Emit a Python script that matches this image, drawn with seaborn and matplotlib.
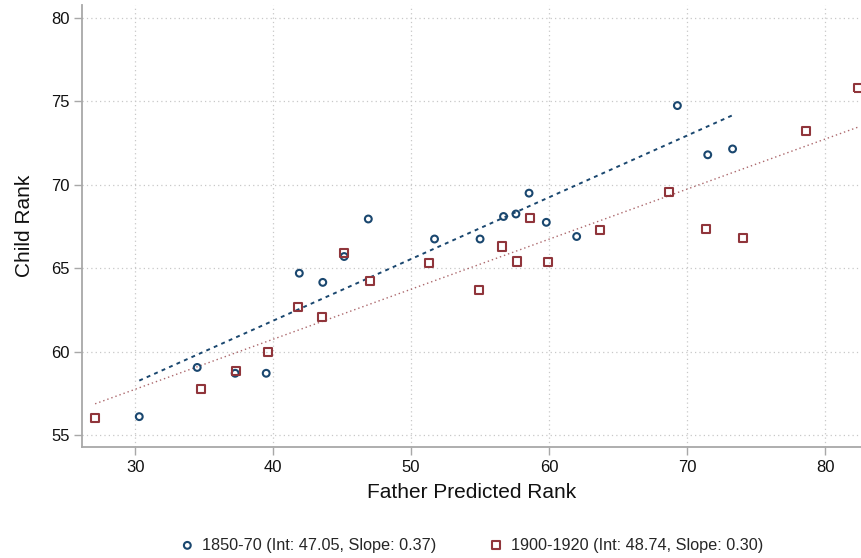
import numpy as np
import pandas as pd
import matplotlib
matplotlib.use("Agg")
import matplotlib.pyplot as plt
import seaborn as sns

# Cohort 1850-70: father predicted rank vs child rank
father_1850 = [30.3, 34.5, 37.25, 39.5, 41.9, 43.6, 45.15, 46.9, 51.7, 55.0,
               56.7, 57.6, 58.55, 59.8, 62.0, 69.3, 71.5, 73.3]
child_1850 = [56.1, 59.05, 58.7, 58.7, 64.7, 64.15, 65.7, 67.95, 66.75, 66.75,
              68.1, 68.25, 69.5, 67.75, 66.9, 74.75, 71.8, 72.15]

# Cohort 1900-1920
father_1900 = [27.1, 34.8, 37.3, 39.6, 41.8, 43.55, 45.15, 47.0, 51.3, 54.9,
               56.6, 57.7, 58.6, 59.9, 63.7, 68.7, 71.4, 74.06, 78.6, 82.4]
child_1900 = [56.0, 57.75, 58.85, 60.0, 62.65, 62.05, 65.9, 64.25, 65.3, 63.7,
              66.3, 65.4, 68.0, 65.35, 67.3, 69.55, 67.35, 66.8, 73.2, 75.8]

labels = ["1850-70", "1900-1920"]
intercepts = [47.05, 48.74]
slopes = [0.37, 0.30]

x_ticks = [30, 40, 50, 60, 70, 80]
y_ticks = [55, 60, 65, 70, 75, 80]

navy = "#1a476f"
maroon = "#90353b"

sns.set_theme(style="white")
plt.rcParams["font.family"] = ["Liberation Sans", "DejaVu Sans"]

fig = plt.figure(figsize=(8.62, 5.58), dpi=100)
ax = fig.add_axes([82 / 862, 1 - 447 / 558, 1 - 82 / 862, 442 / 558])

ax.set_axisbelow(True)
ax.grid(True, color="#c8c8c8", linestyle=(0, (1, 2.5)), linewidth=0.9)

df_a = pd.DataFrame({"father": father_1850, "child": child_1850})
df_b = pd.DataFrame({"father": father_1900, "child": child_1900})

# Linear fits drawn from the stated intercept and slope over each cohort's range
fit_a = pd.DataFrame({"father": [min(father_1850), max(father_1850)]})
fit_a["child"] = intercepts[0] + slopes[0] * fit_a["father"]
fit_b = pd.DataFrame({"father": [min(father_1900), max(father_1900)]})
fit_b["child"] = intercepts[1] + slopes[1] * fit_b["father"]

sns.lineplot(data=fit_a, x="father", y="child", ax=ax, color=navy,
             linewidth=1.4, linestyle=(0, (2.0, 2.2)), zorder=2)
sns.lineplot(data=fit_b, x="father", y="child", ax=ax, color=maroon,
             linewidth=1.0, linestyle=(0, (1, 2.1)), alpha=0.75, zorder=2)

sns.scatterplot(data=df_a, x="father", y="child", ax=ax, marker="o", s=24,
                facecolor="none", edgecolor=navy, linewidth=1.5, zorder=3,
                label=f"{labels[0]} (Int: {intercepts[0]:.2f}, Slope: {slopes[0]:.2f})")
sns.scatterplot(data=df_b, x="father", y="child", ax=ax, marker="s", s=34,
                facecolor="none", edgecolor=maroon, linewidth=1.5, zorder=3,
                label=f"{labels[1]} (Int: {intercepts[1]:.2f}, Slope: {slopes[1]:.2f})")

ax.set_xlim(26.15, 82.68)
ax.set_ylim(54.28, 80.78)
ax.set_xticks(x_ticks)
ax.set_yticks(y_ticks)
ax.tick_params(axis="both", which="major", labelsize=12, length=6,
               width=1.0, color="#a8a8a8", pad=3, labelcolor="#111111",
               bottom=True, left=True)

for side in ["top", "right"]:
    ax.spines[side].set_visible(False)
for side in ["left", "bottom"]:
    ax.spines[side].set_color("#a8a8a8")
    ax.spines[side].set_linewidth(1.3)

ax.set_xlabel("Father Predicted Rank", fontsize=15, color="#111111", labelpad=6)
ax.set_ylabel("Child Rank", fontsize=15, color="#111111", labelpad=12)

ax.legend(loc="center", bbox_to_anchor=(0.5, -0.222), ncol=2, frameon=False,
          fontsize=11.7, handlelength=0.8, handletextpad=0.5, columnspacing=3.3,
          borderaxespad=0)

fig.savefig("out.png", dpi=100)
